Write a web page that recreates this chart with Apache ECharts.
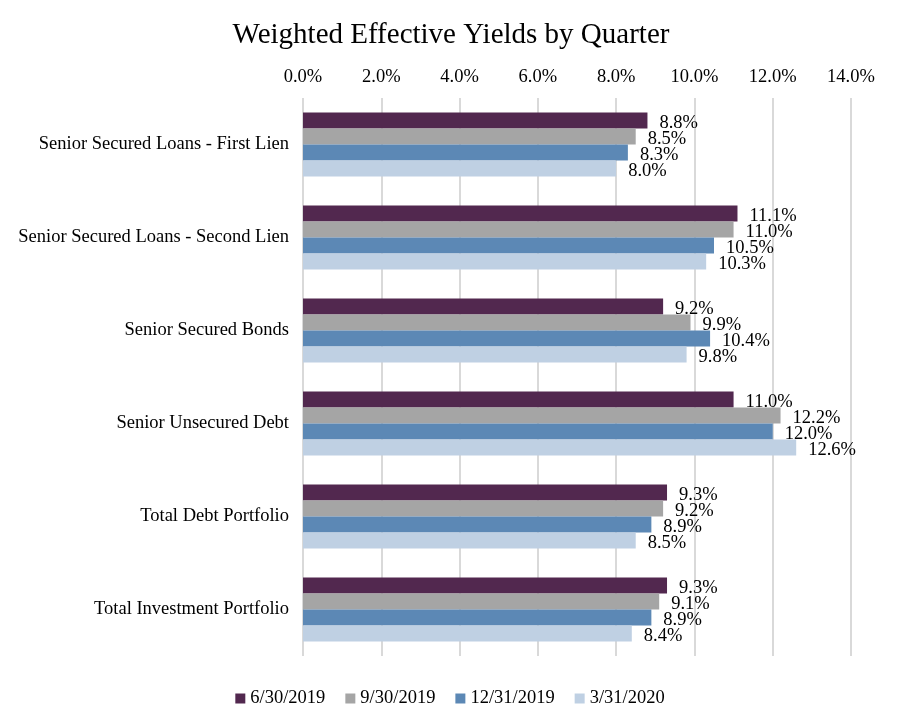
<!DOCTYPE html>
<html><head><meta charset="utf-8">
<script src="https://cdn.jsdelivr.net/npm/echarts@6/dist/echarts.min.js"></script>
<style>html,body{margin:0;padding:0;background:#fff}#c{width:900px;height:725px}</style>
</head><body><div id="c"></div>
<script>
const categories = ["Senior Secured Loans - First Lien","Senior Secured Loans - Second Lien","Senior Secured Bonds","Senior Unsecured Debt","Total Debt Portfolio","Total Investment Portfolio"];
const seriesNames = ["6/30/2019","9/30/2019","12/31/2019","3/31/2020"];
const q2019_06 = [8.8, 11.1, 9.2, 11.0, 9.3, 9.3];
const q2019_09 = [8.5, 11.0, 9.9, 12.2, 9.2, 9.1];
const q2019_12 = [8.3, 10.5, 10.4, 12.0, 8.9, 8.9];
const q2020_03 = [8.0, 10.3, 9.8, 12.6, 8.5, 8.4];
const colors = ["#52284F","#A5A5A5","#5C88B5","#BFD0E3"];
const font = "'Liberation Serif','Times New Roman',serif";
const allData = [q2019_06, q2019_09, q2019_12, q2020_03];
const fs = 18.5;
const chart = echarts.init(document.getElementById('c'));
chart.setOption({
  animation:false,
  textStyle:{fontFamily:font},
  title:{text:"Weighted Effective Yields by Quarter",left:446,top:16,textAlign:'center',
    textStyle:{fontFamily:font,fontSize:29,fontWeight:'normal',color:'#000'}},
  legend:{bottom:12,left:'center',itemWidth:10,itemHeight:10,itemGap:20,icon:'rect',
    textStyle:{fontFamily:font,fontSize:fs,color:'#000'},data:seriesNames},
  grid:{left:303,right:49,top:98,bottom:69,containLabel:false},
  xAxis:{type:'value',position:'top',min:0,max:14,interval:2,
    axisLabel:{formatter:v=>v.toFixed(1)+'%',fontFamily:font,fontSize:fs,color:'#000',margin:11},
    splitLine:{lineStyle:{color:'#D9D9D9',width:2}},axisLine:{show:false},axisTick:{show:false}},
  yAxis:{type:'category',data:categories,inverse:true,
    axisLabel:{fontFamily:font,fontSize:fs,color:'#000',margin:14,padding:[4,0,0,0]},
    axisLine:{show:false},axisTick:{show:false}},
  series: seriesNames.map((n,i)=>({name:n,type:'bar',data:allData[i],barGap:'0%',barCategoryGap:'31%',
    itemStyle:{color:colors[i]},
    label:{show:true,position:'right',distance:12,offset:[0,3],formatter:p=>p.value.toFixed(1)+'%',
      fontFamily:font,fontSize:fs,color:'#000'}}))
});
</script></body></html>
